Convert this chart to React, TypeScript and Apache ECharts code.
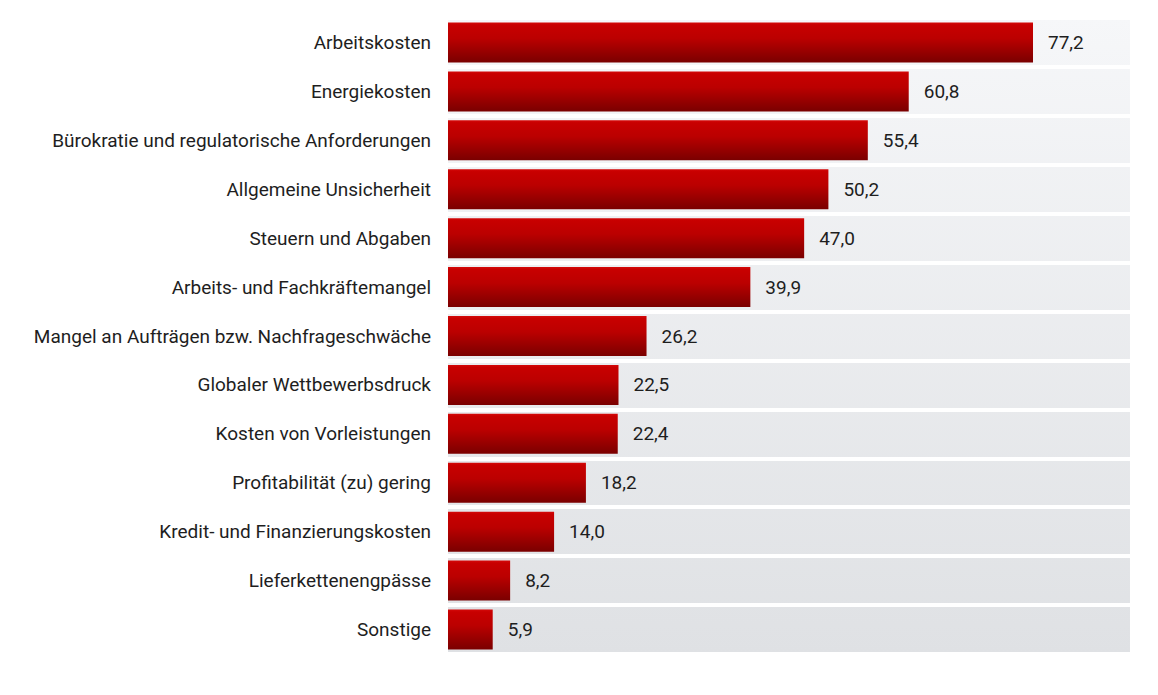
import React, { useEffect, useRef } from "react";
import * as echarts from "echarts";

const categories = [
  "Arbeitskosten",
  "Energiekosten",
  "Bürokratie und regulatorische Anforderungen",
  "Allgemeine Unsicherheit",
  "Steuern und Abgaben",
  "Arbeits- und Fachkräftemangel",
  "Mangel an Aufträgen bzw. Nachfrageschwäche",
  "Globaler Wettbewerbsdruck",
  "Kosten von Vorleistungen",
  "Profitabilität (zu) gering",
  "Kredit- und Finanzierungskosten",
  "Lieferkettenengpässe",
  "Sonstige",
];

const values = [77.2, 60.8, 55.4, 50.2, 47.0, 39.9, 26.2, 22.5, 22.4, 18.2, 14.0, 8.2, 5.9];

const FONT = "Roboto, 'Noto Sans', sans-serif";

export default function App() {
  const ref = useRef<HTMLDivElement>(null);

  useEffect(() => {
    if (!ref.current) return;
    const chart = echarts.init(ref.current, undefined, { renderer: "svg" });
    chart.setOption({
      animation: false,
      grid: {
        left: 448,
        top: 18,
        width: 682,
        height: 636,
        show: true,
        borderWidth: 0,
        backgroundColor: new echarts.graphic.LinearGradient(0, 0, 0, 1, [
          { offset: 0, color: "#f6f7f9" },
          { offset: 1, color: "#dfe1e4" },
        ]),
      },
      xAxis: {
        type: "value",
        min: 0,
        max: 90,
        show: false,
      },
      yAxis: {
        type: "category",
        inverse: true,
        data: categories,
        axisLine: { show: false },
        axisTick: { show: false },
        splitLine: { show: true, lineStyle: { color: "#ffffff", width: 4 } },
        axisLabel: {
          margin: 17,
          fontFamily: FONT,
          fontSize: 19,
          color: "#1e1e1e",
        },
      },
      series: [
        {
          type: "bar",
          data: values,
          barWidth: 40,
          itemStyle: {
            color: new echarts.graphic.LinearGradient(0, 0, 0, 1, [
              { offset: 0, color: "#d40a0a" },
              { offset: 0.06, color: "#c80000" },
              { offset: 0.4, color: "#bb0000" },
              { offset: 1, color: "#7a0000" },
            ]),
          },
          label: {
            show: true,
            position: "right",
            distance: 15,
            fontFamily: FONT,
            fontSize: 19,
            color: "#1e1e1e",
            formatter: (p: any) => p.value.toFixed(1).replace(".", ","),
          },
        },
      ],
    });
    return () => chart.dispose();
  }, []);

  return (
    <div
      ref={ref}
      style={{ position: "fixed", left: 0, top: 0, width: 1158, height: 695, background: "#ffffff" }}
    />
  );
}
